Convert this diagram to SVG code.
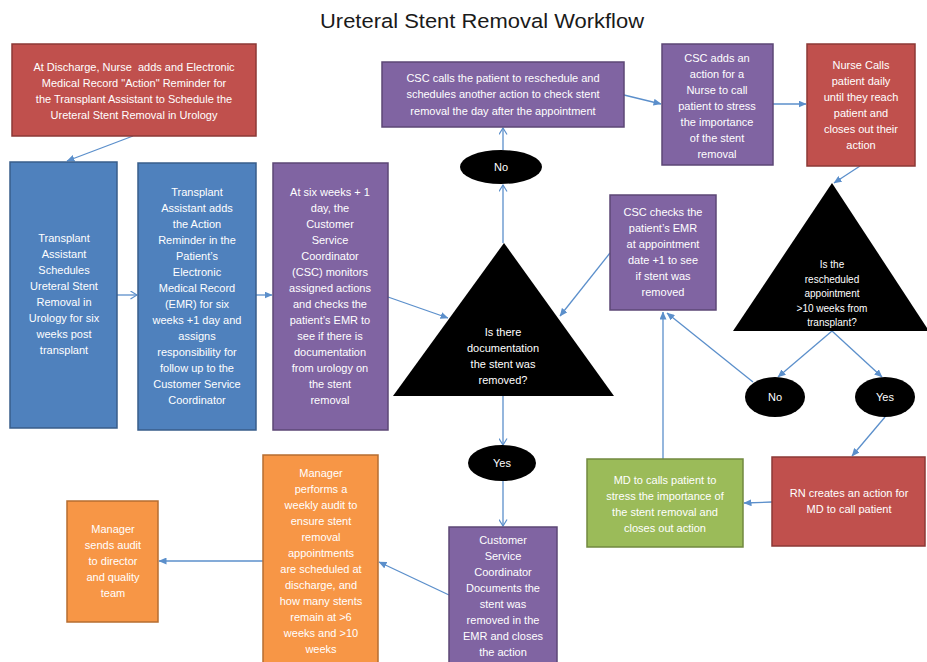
<svg xmlns="http://www.w3.org/2000/svg" width="927" height="662" viewBox="0 0 927 662">
<style>
.t{font-family:"Liberation Sans",Arial,sans-serif;font-size:11px;fill:#ffffff;text-anchor:middle}
.s{font-size:10px}
.title{font-family:"Liberation Sans",Arial,sans-serif;font-size:20.5px;fill:#1a1a1a;text-anchor:middle}
.red{fill:#C0504D;stroke:#8C3836;stroke-width:1.5}
.blue{fill:#4F81BD;stroke:#385D8A;stroke-width:1.5}
.pur{fill:#8064A2;stroke:#5C4776;stroke-width:1.5}
.grn{fill:#9BBB59;stroke:#71893F;stroke-width:1.5}
.org{fill:#F79646;stroke:#B66D31;stroke-width:1.5}
.blk{fill:#000000}
.c{stroke:#5B8FCB;stroke-width:1.3;fill:none}
.f{marker-end:url(#af)}
.o{marker-end:url(#ao)}
</style>
<defs>
<marker id="af" markerUnits="userSpaceOnUse" markerWidth="8" markerHeight="7" refX="7.5" refY="3.5" orient="auto"><path d="M0,0 L8,3.5 L0,7 z" fill="#5B8FCB"/></marker>
<marker id="ao" markerUnits="userSpaceOnUse" markerWidth="8" markerHeight="9" refX="7" refY="4.5" orient="auto"><path d="M0.5,0.5 L7,4.5 L0.5,8.5" fill="none" stroke="#5B8FCB" stroke-width="1.2"/></marker>
</defs>
<rect width="927" height="662" fill="#ffffff"/>
<text class="title" x="482" y="28" textLength="324" lengthAdjust="spacingAndGlyphs">Ureteral Stent Removal Workflow</text>

<g id="connectors">
<line class="c f" x1="133" y1="136" x2="67" y2="161"/>
<line class="c o" x1="117" y1="295" x2="137" y2="295"/>
<line class="c f" x1="256" y1="295" x2="272" y2="295"/>
<line class="c f" x1="388" y1="297" x2="448" y2="318"/>
<line class="c f" x1="610" y1="253" x2="560" y2="316"/>
<line class="c o" x1="503" y1="243" x2="503" y2="185"/>
<line class="c o" x1="503" y1="150" x2="503" y2="128"/>
<line class="c f" x1="624" y1="95" x2="661" y2="104"/>
<line class="c f" x1="773" y1="104" x2="806" y2="104"/>
<line class="c f" x1="860" y1="166" x2="834" y2="183"/>
<line class="c f" x1="832" y1="331" x2="778" y2="377"/>
<line class="c f" x1="832" y1="331" x2="882" y2="377"/>
<line class="c f" x1="753" y1="382" x2="667" y2="313"/>
<line class="c f" x1="885" y1="417" x2="852" y2="456"/>
<line class="c f" x1="772" y1="502" x2="744" y2="503"/>
<line class="c f" x1="663" y1="459" x2="663" y2="312"/>
<line class="c o" x1="503" y1="396" x2="503" y2="445"/>
<line class="c o" x1="503" y1="481" x2="503" y2="526"/>
<line class="c f" x1="449" y1="595" x2="379" y2="562"/>
<line class="c f" x1="263" y1="561" x2="159" y2="561"/>
</g>

<g id="nurse-discharge">
<rect class="red" x="12" y="44" width="244" height="92"/>
<text class="t" xml:space="preserve"><tspan x="134" y="71">At Discharge, Nurse  adds and Electronic</tspan><tspan x="134" y="87">Medical Record "Action" Reminder for</tspan><tspan x="134" y="103">the Transplant Assistant to Schedule the</tspan><tspan x="134" y="119">Ureteral Stent Removal in Urology</tspan></text>
</g>

<g id="ta-schedules">
<rect class="blue" x="10" y="162" width="107" height="266"/>
<text class="t"><tspan x="64" y="242">Transplant</tspan><tspan x="64" y="258">Assistant</tspan><tspan x="64" y="274">Schedules</tspan><tspan x="64" y="290">Ureteral Stent</tspan><tspan x="64" y="306">Removal in</tspan><tspan x="64" y="322">Urology for six</tspan><tspan x="64" y="338">weeks post</tspan><tspan x="64" y="354">transplant</tspan></text>
</g>

<g id="ta-adds">
<rect class="blue" x="138" y="163" width="118" height="267"/>
<text class="t"><tspan x="197" y="196">Transplant</tspan><tspan x="197" y="212">Assistant adds</tspan><tspan x="197" y="228">the Action</tspan><tspan x="197" y="244">Reminder in the</tspan><tspan x="197" y="260">Patient’s</tspan><tspan x="197" y="276">Electronic</tspan><tspan x="197" y="292">Medical Record</tspan><tspan x="197" y="308">(EMR) for six</tspan><tspan x="197" y="324">weeks +1 day and</tspan><tspan x="197" y="340">assigns</tspan><tspan x="197" y="356">responsibility for</tspan><tspan x="197" y="372">follow up to the</tspan><tspan x="197" y="388">Customer Service</tspan><tspan x="197" y="404">Coordinator</tspan></text>
</g>

<g id="csc-monitors">
<rect class="pur" x="273" y="163" width="115" height="267"/>
<text class="t"><tspan x="330" y="196">At six weeks + 1</tspan><tspan x="330" y="212">day, the</tspan><tspan x="330" y="228">Customer</tspan><tspan x="330" y="244">Service</tspan><tspan x="330" y="260">Coordinator</tspan><tspan x="330" y="276">(CSC) monitors</tspan><tspan x="330" y="292">assigned actions</tspan><tspan x="330" y="308">and checks the</tspan><tspan x="330" y="324">patient’s EMR to</tspan><tspan x="330" y="340">see if there is</tspan><tspan x="330" y="356">documentation</tspan><tspan x="330" y="372">from urology on</tspan><tspan x="330" y="388">the stent</tspan><tspan x="330" y="404">removal</tspan></text>
</g>

<g id="decision-documented">
<polygon class="blk" points="504,243 393,396 614,396"/>
<text class="t"><tspan x="503" y="336">Is there</tspan><tspan x="503" y="352">documentation</tspan><tspan x="503" y="368">the stent was</tspan><tspan x="503" y="384">removed?</tspan></text>
</g>

<g id="no-1">
<ellipse class="blk" cx="501" cy="167" rx="41" ry="17"/>
<text class="t" x="501" y="171">No</text>
</g>

<g id="csc-calls">
<rect class="pur" x="382" y="62" width="242" height="65"/>
<text class="t"><tspan x="503" y="82">CSC calls the patient to reschedule and</tspan><tspan x="503" y="98">schedules another action to check stent</tspan><tspan x="503" y="115">removal the day after the appointment</tspan></text>
</g>

<g id="csc-adds">
<rect class="pur" x="662" y="44" width="111" height="121"/>
<text class="t"><tspan x="717" y="62">CSC adds an</tspan><tspan x="717" y="78">action for a</tspan><tspan x="717" y="94">Nurse to call</tspan><tspan x="717" y="110">patient to stress</tspan><tspan x="717" y="126">the importance</tspan><tspan x="717" y="142">of the stent</tspan><tspan x="717" y="158">removal</tspan></text>
</g>

<g id="nurse-calls">
<rect class="red" x="807" y="44" width="108" height="122"/>
<text class="t"><tspan x="861" y="69">Nurse Calls</tspan><tspan x="861" y="85">patient daily</tspan><tspan x="861" y="101">until they reach</tspan><tspan x="861" y="117">patient and</tspan><tspan x="861" y="133">closes out their</tspan><tspan x="861" y="149">action</tspan></text>
</g>

<g id="csc-checks">
<rect class="pur" x="610" y="195" width="106" height="115"/>
<text class="t"><tspan x="663" y="216">CSC checks the</tspan><tspan x="663" y="232">patient’s EMR</tspan><tspan x="663" y="248">at appointment</tspan><tspan x="663" y="264">date +1 to see</tspan><tspan x="663" y="280">if stent was</tspan><tspan x="663" y="296">removed</tspan></text>
</g>

<g id="decision-10weeks">
<polygon class="blk" points="832,183 733,331 929,331"/>
<text class="t s"><tspan x="832" y="268">Is the</tspan><tspan x="832" y="282.5">rescheduled</tspan><tspan x="832" y="297">appointment</tspan><tspan x="832" y="311.5">&gt;10 weeks from</tspan><tspan x="832" y="326">transplant?</tspan></text>
</g>

<g id="no-2">
<ellipse class="blk" cx="775" cy="397" rx="30" ry="20"/>
<text class="t" x="775" y="401">No</text>
</g>

<g id="yes-2">
<ellipse class="blk" cx="885" cy="397" rx="30" ry="20"/>
<text class="t" x="885" y="401">Yes</text>
</g>

<g id="rn-creates">
<rect class="red" x="772" y="457" width="153" height="89"/>
<text class="t"><tspan x="849" y="497">RN creates an action for</tspan><tspan x="849" y="513">MD to call patient</tspan></text>
</g>

<g id="md-calls">
<rect class="grn" x="587" y="459" width="156" height="88"/>
<text class="t"><tspan x="665" y="484">MD to calls patient to</tspan><tspan x="665" y="500">stress the importance of</tspan><tspan x="665" y="516">the stent removal and</tspan><tspan x="665" y="532">closes out action</tspan></text>
</g>

<g id="yes-1">
<ellipse class="blk" cx="502" cy="463" rx="34" ry="18"/>
<text class="t" x="502" y="467">Yes</text>
</g>

<g id="csc-documents">
<rect class="pur" x="449" y="527" width="108" height="140"/>
<text class="t"><tspan x="503" y="544">Customer</tspan><tspan x="503" y="560">Service</tspan><tspan x="503" y="576">Coordinator</tspan><tspan x="503" y="592">Documents the</tspan><tspan x="503" y="608">stent was</tspan><tspan x="503" y="624">removed in the</tspan><tspan x="503" y="640">EMR and closes</tspan><tspan x="503" y="656">the action</tspan></text>
</g>

<g id="manager-audit">
<rect class="org" x="263" y="455" width="115" height="212"/>
<text class="t"><tspan x="321" y="477">Manager</tspan><tspan x="321" y="493">performs a</tspan><tspan x="321" y="509">weekly audit to</tspan><tspan x="321" y="525">ensure stent</tspan><tspan x="321" y="541">removal</tspan><tspan x="321" y="557">appointments</tspan><tspan x="321" y="573">are scheduled at</tspan><tspan x="321" y="589">discharge, and</tspan><tspan x="321" y="605">how many stents</tspan><tspan x="321" y="621">remain at &gt;6</tspan><tspan x="321" y="637">weeks and &gt;10</tspan><tspan x="321" y="653">weeks</tspan></text>
</g>

<g id="manager-sends">
<rect class="org" x="67" y="501" width="91" height="121"/>
<text class="t"><tspan x="113" y="533">Manager</tspan><tspan x="113" y="549">sends audit</tspan><tspan x="113" y="565">to director</tspan><tspan x="113" y="581">and quality</tspan><tspan x="113" y="597">team</tspan></text>
</g>
</svg>
